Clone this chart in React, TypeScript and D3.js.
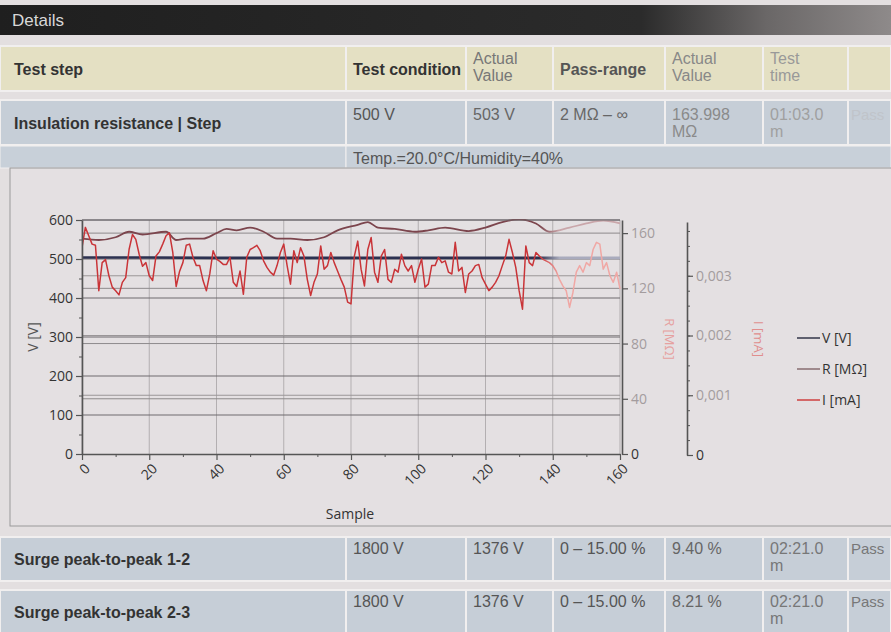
import React, { useRef, useEffect } from 'react'
import * as d3 from 'd3'

const W = 891
const H = 632

// ---- table content ----
const headerLabels = [['Test step'], ['Test condition'], ['Actual', 'Value'], ['Pass-range'], ['Actual', 'Value'], ['Test', 'time'], ['']]
const insulationRow = [['Insulation resistance | Step'], ['500 V'], ['503 V'], ['2 MΩ – ∞'], ['163.998', 'MΩ'], ['01:03.0', 'm'], ['Pass']]
const conditionText = 'Temp.=20.0°C/Humidity=40%'
const surgeRow1 = [['Surge peak-to-peak 1-2'], ['1800 V'], ['1376 V'], ['0 – 15.00 %'], ['9.40 %'], ['02:21.0', 'm'], ['Pass']]
const surgeRow2 = [['Surge peak-to-peak 2-3'], ['1800 V'], ['1376 V'], ['0 – 15.00 %'], ['8.21 %'], ['02:21.0', 'm'], ['Pass']]

// ---- chart data ----
const sampleTicks = [0, 20, 40, 60, 80, 100, 120, 140, 160]
const vTicks = [0, 100, 200, 300, 400, 500, 600]
const rTicks = [0, 40, 80, 120, 160]
const iTicks = [0, 0.001, 0.002, 0.003]
const legendLabels = ['V [V]', 'R [MΩ]', 'I [mA]']

const vSamples = [0, 20, 40, 60, 80, 100, 120, 140, 160]
const vValues = [504, 504, 503, 503, 503, 503, 503, 503, 503]

const rSamples = [0, 5, 10, 14, 18, 25, 28, 31, 36, 40, 43, 46, 50, 54, 58, 62, 67, 72, 76, 82, 85, 88, 93, 99, 103, 108, 115, 120, 125, 130, 135, 139, 145, 150, 155, 160]
const rValues = [156, 155, 157, 161, 159, 161, 155, 156, 156, 160, 163, 162, 164, 161, 156, 156, 155, 157, 162, 166, 168, 164, 163, 161, 162, 164, 161.5, 164, 168, 170, 167, 161, 164, 167, 169, 167]

// current per sample (index = sample), mA
const iValues = [
  0.00347, 0.00381, 0.00367, 0.00353, 0.00351, 0.00275, 0.00322, 0.00327, 0.00300, 0.00281,
  0.00275, 0.00268, 0.00289, 0.00297, 0.00344, 0.00369, 0.00361, 0.00336, 0.00316, 0.00322,
  0.00300, 0.00292, 0.00333, 0.00340, 0.00353, 0.00367, 0.00372, 0.00339, 0.00282, 0.00307,
  0.00322, 0.00351, 0.00353, 0.00331, 0.00317, 0.00317, 0.00292, 0.00275, 0.00303, 0.00342,
  0.00328, 0.00324, 0.00319, 0.00319, 0.00331, 0.00289, 0.00282, 0.00308, 0.00269, 0.00331,
  0.00344, 0.00347, 0.00351, 0.00342, 0.00325, 0.00314, 0.00306, 0.00301, 0.00317, 0.00339,
  0.00353, 0.00317, 0.00286, 0.00342, 0.00322, 0.00347, 0.00333, 0.00294, 0.00267, 0.00289,
  0.00303, 0.00350, 0.00311, 0.00317, 0.00339, 0.00322, 0.00308, 0.00294, 0.00281, 0.00256,
  0.00253, 0.00333, 0.00358, 0.00311, 0.00283, 0.00344, 0.00364, 0.00306, 0.00289, 0.00333,
  0.00344, 0.00294, 0.00289, 0.00311, 0.00306, 0.00336, 0.00317, 0.00308, 0.00317, 0.00289,
  0.00311, 0.00328, 0.00281, 0.00286, 0.00317, 0.00317, 0.00331, 0.00322, 0.00325, 0.00306,
  0.00303, 0.00356, 0.00308, 0.00314, 0.00272, 0.00303, 0.00308, 0.00317, 0.00319, 0.00297,
  0.00286, 0.00275, 0.00281, 0.00289, 0.00300, 0.00317, 0.00333, 0.00361, 0.00339, 0.00314,
  0.00275, 0.00244, 0.00350, 0.00322, 0.00317, 0.00339, 0.00333, 0.00328, 0.00325, 0.00322,
  0.00317, 0.00308, 0.00294, 0.00283, 0.00275, 0.00247, 0.00272, 0.00306, 0.00317, 0.00306,
  0.00322, 0.00317, 0.00344, 0.00356, 0.00353, 0.00311, 0.00322, 0.00300, 0.00289, 0.00306,
  0.00278
]

const colEdges = [0, 346, 466, 553, 665, 763, 848, 891]
const FONT = "'Liberation Sans', Arial, sans-serif"
const CHART_FONT = "'Open Sans', 'DejaVu Sans', sans-serif"

const App = () => {
  const ref = useRef<SVGSVGElement>(null)

  useEffect(() => {
    const svg = d3.select(ref.current)
    svg.selectAll('*').remove()

    svg.append('rect').attr('width', W).attr('height', H).attr('fill', '#e3dfe0')

    const defs = svg.append('defs')
    const bar = defs.append('linearGradient').attr('id', 'barGrad')
    bar.append('stop').attr('offset', 0).attr('stop-color', '#1f1f1f')
    bar.append('stop').attr('offset', 0.72).attr('stop-color', '#2b2b2b')
    bar.append('stop').attr('offset', 0.86).attr('stop-color', '#6a6767')
    bar.append('stop').attr('offset', 1).attr('stop-color', '#8e8a8a')

    // Details bar
    svg.append('rect').attr('x', 0).attr('y', 5).attr('width', W).attr('height', 30).attr('fill', 'url(#barGrad)')
    svg.append('text').attr('x', 12).attr('y', 26).text('Details')
      .attr('fill', '#d8d8d8').style('font', `17px ${FONT}`)

    const drawRow = (y: number, h: number, cells: string[][], fill: string, opts: any) => {
      const g = svg.append('g')
      cells.forEach((lines, i) => {
        const x0 = colEdges[i], x1 = colEdges[i + 1]
        g.append('rect').attr('x', x0).attr('y', y).attr('width', x1 - x0).attr('height', h)
          .attr('fill', fill).attr('stroke', '#f1efef').attr('stroke-width', 2)
        const bold = opts.boldCols.includes(i)
        const color = opts.colors ? opts.colors[i] : '#333'
        const pad = i === 0 ? 14 : i === cells.length - 1 ? 3 : 7
        lines.forEach((t, j) => {
          const ty = lines.length > 1 || opts.top ? y + opts.topY + j * 17 : y + h / 2 + 6
          const yy = i === 0 ? y + h / 2 + 6 : ty
          g.append('text').attr('x', x0 + pad).attr('y', yy).text(t)
            .attr('fill', color)
            .style('font', `${bold ? 'bold ' : ''}${i === cells.length - 1 ? 15 : 16}px ${FONT}`)
        })
      })
    }

    drawRow(46, 45, headerLabels, '#e4e0c3', {
      boldCols: [0, 1, 3], top: false, topY: 18,
      colors: ['#333', '#333', '#777', '#555', '#888', '#999', '#aaa']
    })
    drawRow(100, 45, insulationRow, '#c6ced7', {
      boldCols: [0], top: true, topY: 20,
      colors: ['#333', '#555', '#666', '#666', '#8a8a8a', '#a0a0a0', '#c0c4ca']
    })
    // condition sub row
    svg.append('rect').attr('x', 0).attr('y', 146).attr('width', 346).attr('height', 22).attr('fill', '#c8d0d9').attr('stroke', '#f1efef')
    svg.append('rect').attr('x', 346).attr('y', 146).attr('width', W - 346).attr('height', 22).attr('fill', '#c8d0d9').attr('stroke', '#f1efef')
    svg.append('text').attr('x', 353).attr('y', 164).text(conditionText).attr('fill', '#555').style('font', `16px ${FONT}`)

    drawRow(537, 44, surgeRow1, '#c6ced7', {
      boldCols: [0], top: true, topY: 17,
      colors: ['#333', '#555', '#555', '#555', '#666', '#777', '#777']
    })
    drawRow(590, 44, surgeRow2, '#c6ced7', {
      boldCols: [0], top: true, topY: 17,
      colors: ['#333', '#555', '#555', '#555', '#666', '#777', '#777']
    })

    // chart panel
    svg.append('rect').attr('x', 10).attr('y', 168).attr('width', W).attr('height', 358)
      .attr('fill', '#e4e0e2').attr('stroke', '#9a9a9a')

    const left = 82, right = 620, top = 220, bottom = 454
    const x = d3.scaleLinear().domain([0, 160]).range([left, right])
    const yV = d3.scaleLinear().domain([0, 600]).range([bottom, top])
    const yR = d3.scaleLinear().domain([0, 169.5]).range([bottom, top])
    const yI = d3.scaleLinear().domain([0, 0.0039]).range([bottom + 1, top + 2])

    const clip = defs.append('clipPath').attr('id', 'plotClip')
    clip.append('rect').attr('x', left).attr('y', top - 1).attr('width', right - left + 2).attr('height', bottom - top + 2)

    const grid = svg.append('g')
    sampleTicks.forEach(s => {
      grid.append('line').attr('x1', x(s)).attr('x2', x(s)).attr('y1', top).attr('y2', bottom)
        .attr('stroke', '#b3afb1').attr('stroke-width', 1)
    })
    rTicks.slice(1).forEach(r => {
      grid.append('line').attr('x1', left).attr('x2', right).attr('y1', yR(r)).attr('y2', yR(r))
        .attr('stroke', '#8d8a8c').attr('stroke-width', 1)
    })
    iTicks.slice(1).forEach(v => {
      grid.append('line').attr('x1', left).attr('x2', right).attr('y1', yI(v)).attr('y2', yI(v))
        .attr('stroke', '#9a9698').attr('stroke-width', 1)
    })
    vTicks.slice(1).forEach(v => {
      grid.append('line').attr('x1', left).attr('x2', right).attr('y1', yV(v)).attr('y2', yV(v))
        .attr('stroke', '#6e6b6e').attr('stroke-width', 1.2)
    })

    // fade gradients (lighter towards the right end of the trace)
    const fade = (id: string, c1: string, c2: string) => {
      const gr = defs.append('linearGradient').attr('id', id).attr('gradientUnits', 'userSpaceOnUse')
        .attr('x1', x(136)).attr('x2', x(142)).attr('y1', 0).attr('y2', 0)
      gr.append('stop').attr('offset', 0).attr('stop-color', c1)
      gr.append('stop').attr('offset', 1).attr('stop-color', c2)
    }
    fade('fadeV', '#2c3150', '#a9abbd')
    fade('fadeR', '#7c454d', '#c9a6aa')
    fade('fadeI', '#c93438', '#f0a7a4')

    const plot = svg.append('g').attr('clip-path', 'url(#plotClip)')

    plot.append('path').datum(rValues)
      .attr('d', d3.line<number>().x((d, i) => x(rSamples[i])).y(d => yR(d)).curve(d3.curveMonotoneX))
      .attr('fill', 'none').attr('stroke', 'url(#fadeR)').attr('stroke-width', 1.8)

    plot.append('path').datum(vValues)
      .attr('d', d3.line<number>().x((d, i) => x(vSamples[i])).y(d => yV(d)))
      .attr('fill', 'none').attr('stroke', 'url(#fadeV)').attr('stroke-width', 2.6)

    plot.append('path').datum(iValues)
      .attr('d', d3.line<number>().x((d, i) => x(i)).y(d => yI(d)))
      .attr('fill', 'none').attr('stroke', 'url(#fadeI)').attr('stroke-width', 1.5)
      .attr('stroke-linejoin', 'round')

    // plot top border
    svg.append('line').attr('x1', left).attr('x2', right).attr('y1', top).attr('y2', top)
      .attr('stroke', '#6e6b6e').attr('stroke-width', 1.2)

    const styleAxis = (g: any, color: string) => {
      g.select('.domain').attr('stroke', '#555').attr('stroke-width', 1.6)
      g.selectAll('.tick line').attr('stroke', '#555').attr('stroke-width', 1.2)
      g.selectAll('text').attr('fill', color).style('font', `14px ${CHART_FONT}`)
    }

    // left V axis
    const gV = svg.append('g').attr('transform', `translate(${left},0)`)
      .call(d3.axisLeft(yV).tickValues(vTicks).tickSizeOuter(0))
    styleAxis(gV, '#333')
    const gVm = svg.append('g').attr('transform', `translate(${left},0)`)
      .call(d3.axisLeft(yV).tickValues(d3.range(50, 600, 100)).tickSize(3).tickFormat(() => ''))
    gVm.select('.domain').remove()
    gVm.selectAll('.tick line').attr('stroke', '#555')

    // bottom axis
    const gX = svg.append('g').attr('transform', `translate(0,${bottom})`)
      .call(d3.axisBottom(x).tickValues(sampleTicks).tickSizeOuter(0))
    styleAxis(gX, '#333')
    gX.selectAll('text')
      .attr('y', 0).attr('dy', '0.35em')
      .attr('transform', 'translate(5,12) rotate(-45)')
      .style('text-anchor', 'end')
    const gXm = svg.append('g').attr('transform', `translate(0,${bottom})`)
      .call(d3.axisBottom(x).tickValues(d3.range(10, 160, 20)).tickSize(3).tickFormat(() => ''))
    gXm.select('.domain').remove()
    gXm.selectAll('.tick line').attr('stroke', '#555')

    // right R axis
    const gR = svg.append('g').attr('transform', `translate(${right + 2},0)`)
      .call(d3.axisRight(yR).tickValues(rTicks).tickFormat(d3.format('d')).tickSizeOuter(0))
    styleAxis(gR, '#a39c9e')
    gR.selectAll('text').filter((d: any) => d === 0).attr('fill', '#333')

    // third I axis
    const iAxisX = 687
    const gI = svg.append('g').attr('transform', `translate(${iAxisX},0)`)
      .call(d3.axisRight(yI).tickValues(iTicks).tickFormat((d: any) => d === 0 ? '0' : d3.format('.3f')(d).replace('.', ',')).tickSizeOuter(0))
    styleAxis(gI, '#a39c9e')
    gI.selectAll('text').filter((d: any) => d === 0).attr('fill', '#333')
    const gIm = svg.append('g').attr('transform', `translate(${iAxisX},0)`)
      .call(d3.axisRight(yI).tickValues(d3.range(0.00025, 0.0039, 0.00025)).tickSize(3).tickFormat(() => ''))
    gIm.select('.domain').remove()
    gIm.selectAll('.tick line').attr('stroke', '#555')

    // axis titles
    svg.append('text').attr('transform', `translate(38,${(top + bottom) / 2}) rotate(-90)`)
      .attr('text-anchor', 'middle').text('V [V]').attr('fill', '#555').style('font', `14px ${CHART_FONT}`)
    svg.append('text').attr('transform', `translate(665,${(top + bottom) / 2 + 2}) rotate(90)`)
      .attr('text-anchor', 'middle').text('R [MΩ]').attr('fill', '#e6a1a0').style('font', `13px ${CHART_FONT}`)
    svg.append('text').attr('transform', `translate(754,${(top + bottom) / 2 + 2}) rotate(90)`)
      .attr('text-anchor', 'middle').text('I [mA]').attr('fill', '#e08e8d').style('font', `13px ${CHART_FONT}`)
    svg.append('text').attr('x', 350).attr('y', 519).attr('text-anchor', 'middle')
      .text('Sample').attr('fill', '#333').style('font', `14px ${CHART_FONT}`)

    // legend
    const legendColors = ['#3d3f52', '#8d7478', '#d04a4a']
    legendLabels.forEach((t, i) => {
      const ly = 338 + i * 31
      svg.append('line').attr('x1', 797).attr('x2', 820).attr('y1', ly).attr('y2', ly)
        .attr('stroke', legendColors[i]).attr('stroke-width', 1.6)
      svg.append('text').attr('x', 822).attr('y', ly + 5).text(t)
        .attr('fill', '#333').style('font', `14px ${CHART_FONT}`)
    })
  }, [])

  return (
    <svg ref={ref} width={W} height={H} style={{ position: 'absolute', left: 0, top: 0, display: 'block' }}></svg>
  )
}

export default App
